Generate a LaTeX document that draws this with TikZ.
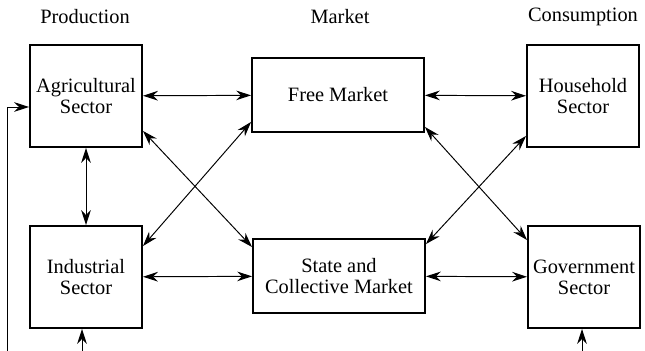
\documentclass[tikz,border=0pt]{standalone}
\usepackage{fontspec}
\setmainfont{Liberation Serif}
\newfontfamily\boxfont{Liberation Serif}
\usepackage{tikz}
\usetikzlibrary{arrows.meta}
\tikzset{
sector/.style={
  rectangle,draw,line width=1.1pt,
  minimum width=2.24cm,minimum height=2.04cm,
  align=center,inner sep=0pt
},
market/.style={
  rectangle,draw,line width=1.1pt,
  minimum width=3.44cm,minimum height=1.48cm,
  align=center,inner sep=0pt
},
title/.style={inner sep=0pt},
flow/.style={line width=0.55pt,
  arrows={Stealth[length=8.5pt,width=5.5pt,inset=2.8pt]-Stealth[length=8.5pt,width=5.5pt,inset=2.8pt]}},
inflow/.style={line width=0.55pt,
  -{Stealth[length=8.5pt,width=5.5pt,inset=2.8pt]}},
}

\begin{document}
\begin{tikzpicture}[x=0.02cm,y=-0.02cm,font=\boxfont\fontsize{11.6}{12}\selectfont]
\useasboundingbox (0,0) rectangle (645,351);
% the column heads
\node[title] (prod) at (85,17) {Production};
\node[title] (mark) at (340,17) {Market};
\node[title] (cons) at (583,17) {Consumption};
% the boxes
\node[sector] (agri) at (86,96) {Agricultural\\Sector};
\node[sector] (ind) at (86,277) {Industrial\\Sector};
\node[market] (free) at (338,95) {Free Market};
\node[market] (state) at (339,276) {State and\\Collective Market};
\node[sector] (house) at (583,96) {Household\\Sector};
\node[sector] (gov) at (584,277) {Government\\Sector};
% the arrows
\draw[flow] (agri) -- (free);
\draw[flow] (free) -- (house);
\draw[flow] (ind) -- (state);
\draw[flow] (state) -- (gov);
\draw[flow] (agri) -- (ind);
\draw[flow] ([yshift=0.34cm]agri.south east) -- ([yshift=-0.18cm]state.north west);
\draw[flow] ([yshift=-0.42cm]ind.north east) -- ([yshift=0.22cm]free.south west);
\draw[flow] ([yshift=0.12cm]free.south east) -- ([yshift=-0.3cm]gov.north west);
\draw[flow] ([yshift=-0.12cm]state.north east) -- ([yshift=0.24cm]house.south west);
% the inputs from below
\coordinate (indin) at (82,351);
\coordinate (govin) at (582,351);
\coordinate (back) at (7,351);
\draw[inflow] (indin) -- (indin |- ind.south);
\draw[inflow] (govin) -- (govin |- gov.south);
\draw[inflow] (back) |- ([yshift=-0.22cm]agri.west);
\end{tikzpicture}
\end{document}
